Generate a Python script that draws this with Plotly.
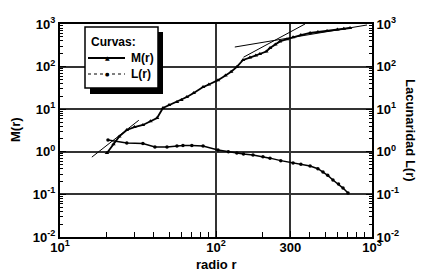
import plotly.graph_objects as go

# ---- data ----
r_M = [20, 22, 24, 26.8, 30, 34, 38, 41.9, 45.7, 50, 56.2, 60, 65, 72, 82.6, 90, 103,
       115, 125, 136, 149, 165, 180, 191, 210, 222, 240, 257, 285, 312, 350, 401, 450,
       515, 600, 660, 723]
M_vals = [0.94, 1.5, 2.3, 3.25, 3.8, 4.26, 5.2, 6.2, 10.7, 12.5, 14.8, 16.5, 19.3, 24,
          33, 38, 48, 62, 76, 98, 143, 163, 183, 198, 226, 273, 330, 390, 440, 490, 550,
          615, 650, 685, 740, 770, 805]

r_L = [20.3, 26.8, 34, 40.6, 48.5, 56.2, 61.4, 70, 82.6, 103, 120, 136, 150, 172.6,
       200, 222, 260, 312, 350, 401, 450, 485, 520, 562, 610, 652, 702]
L_vals = [1.89, 1.61, 1.57, 1.30, 1.30, 1.37, 1.41, 1.40, 1.37, 1.10, 1.0, 0.94, 0.89,
          0.84, 0.77, 0.71, 0.62, 0.546, 0.51, 0.464, 0.40, 0.336, 0.28, 0.218, 0.175,
          0.141, 0.108]

fitA_r = [16, 32]
fitA_v = [0.75, 5.5]
fitB_r = [150, 372]
fitB_v = [166, 1000]
fitC_r = [132, 929]
fitC_v = [288, 948]

x_tickvals = [10, 100, 300, 1000]
x_ticktext = ["10<sup>1</sup>", "10<sup>2</sup>", "300", "10<sup>3</sup>"]
y_tickvals = [0.01, 0.1, 1, 10, 100, 1000]
y_ticktext = ["10<sup>-2</sup>", "10<sup>-1</sup>", "10<sup>0</sup>",
              "10<sup>1</sup>", "10<sup>2</sup>", "10<sup>3</sup>"]
x_minor = [20, 30, 40, 50, 60, 70, 80, 90, 200, 400, 500, 600, 700, 800, 900]
y_minor = [m * 10 ** e for e in range(-2, 3) for m in range(2, 10)]

FONT = "Liberation Sans"

fig = go.Figure()
fig.add_trace(go.Scatter(x=r_M, y=M_vals, mode="lines+markers",
                         line=dict(color="black", width=1.8),
                         marker=dict(symbol="triangle-up", size=4, color="black"),
                         showlegend=False))
fig.add_trace(go.Scatter(x=r_L, y=L_vals, mode="lines+markers", yaxis="y2",
                         line=dict(color="black", width=1.5),
                         marker=dict(symbol="circle", size=3.5, color="black"),
                         showlegend=False))
for fr, fv in [(fitA_r, fitA_v), (fitB_r, fitB_v), (fitC_r, fitC_v)]:
    fig.add_trace(go.Scatter(x=fr, y=fv, mode="lines",
                             line=dict(color="black", width=1), showlegend=False))

tickfont = dict(family=FONT, size=13, color="black", weight="bold")
axcommon = dict(showline=True, linecolor="black", linewidth=2, ticks="inside",
                ticklen=6, tickcolor="black", tickwidth=1, tickfont=tickfont,
                zeroline=False, automargin=False)

fig.update_layout(
    width=421, height=271,
    margin=dict(l=60, r=49, t=24, b=34),
    paper_bgcolor="white", plot_bgcolor="white",
    xaxis=dict(type="log", range=[1, 3], tickmode="array", tickvals=x_tickvals,
               ticktext=x_ticktext, mirror=True, showgrid=True,
               gridcolor="#333333", gridwidth=1.5, ticklabelstandoff=-3,
               minor=dict(tickmode="array", tickvals=x_minor, ticks="inside",
                          ticklen=5, tickcolor="black", showgrid=False),
               **axcommon),
    yaxis=dict(type="log", range=[-2, 3], tickmode="array", tickvals=y_tickvals,
               ticktext=y_ticktext, mirror=True, showgrid=True,
               gridcolor="#333333", gridwidth=1.5,
               minor=dict(tickmode="array", tickvals=y_minor, ticks="inside",
                          ticklen=3, tickcolor="black", showgrid=False),
               **axcommon),
    yaxis2=dict(type="log", range=[-2, 3], tickmode="array", tickvals=y_tickvals,
                ticktext=y_ticktext, overlaying="y", side="right", showgrid=False,
                minor=dict(tickmode="array", tickvals=y_minor, ticks="inside",
                           ticklen=3, tickcolor="black", showgrid=False),
                **axcommon),
)


def px_x(p):
    return (p - 60) / 312


def px_y(p):
    return 1 - (p - 24) / 213


def note(text, x, y, font, xanchor="center", angle=0):
    fig.add_annotation(text=text, xref="paper", yref="paper", x=px_x(x),
                       y=px_y(y), xanchor=xanchor, yanchor="middle",
                       showarrow=False, textangle=angle, font=font)


titlefont = dict(family=FONT, size=13, color="black", weight="bold")
note("radio r", 216, 264, titlefont)
note("M(r)", 15, 130, titlefont, angle=-90)
note("Lacunaridad L(r)", 411, 130, titlefont, angle=90)

# ---- legend box drawn by hand ----
fig.add_shape(type="rect", xref="paper", yref="paper",
              x0=px_x(90), x1=px_x(163), y0=px_y(94), y1=px_y(32),
              fillcolor="black", line=dict(width=0))
fig.add_shape(type="rect", xref="paper", yref="paper",
              x0=px_x(85), x1=px_x(158), y0=px_y(88), y1=px_y(27),
              fillcolor="white", line=dict(color="black", width=1.5))
fig.add_shape(type="line", xref="paper", yref="paper",
              x0=px_x(88), x1=px_x(125), y0=px_y(58), y1=px_y(58),
              line=dict(color="black", width=1.8))
fig.add_shape(type="line", xref="paper", yref="paper",
              x0=px_x(88), x1=px_x(125), y0=px_y(74), y1=px_y(74),
              line=dict(color="black", width=1, dash="dot"))
legfont = dict(family=FONT, size=12, color="black", weight="bold")
note("Curvas:", 89, 42, legfont, xanchor="left")
note("M(r)", 129, 58, legfont, xanchor="left")
note("L(r)", 129, 74, legfont, xanchor="left")
note("▲", 107, 57.5, dict(family="DejaVu Sans", size=6, color="black"))
note("●", 107, 74, dict(family="DejaVu Sans", size=5, color="black"))

fig.write_html("out.html", config={"displayModeBar": False},
               post_script="document.body.style.margin='0';")
